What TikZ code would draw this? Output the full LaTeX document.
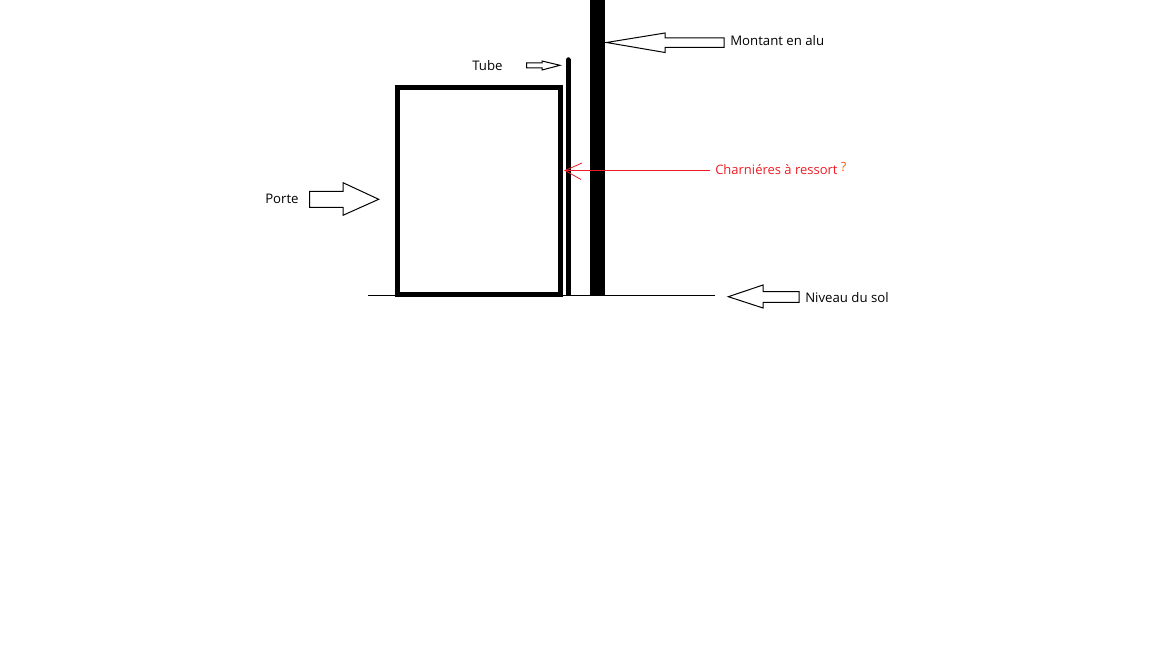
\documentclass[tikz,border=0pt]{standalone}
\usepackage{fontspec}
\setmainfont{Open Sans}
\definecolor{alarm}{HTML}{ED1C24}
\begin{document}
\begin{tikzpicture}[x=0.75pt,y=-0.75pt,
  blockarrow/.style={draw=black,line width=0.75pt,fill=white,line join=miter},
  thickline/.style={draw=black,line width=3.4pt},
  label/.style={anchor=base west,inner sep=0pt,font=\fontsize{9.9pt}{12pt}\selectfont,text=black},
  redlabel/.style={anchor=base west,inner sep=0pt,font=\fontsize{9.75pt}{12pt}\selectfont,text=alarm}]
\useasboundingbox (0,0) rectangle (1152,648);
% ground
\coordinate (gl) at (368,295);
\coordinate (gr) at (715,295);
\draw[line width=0.6pt] (gl) -- (gr);
% door
\draw[thickline,line join=miter] (397.5,87.5) rectangle (560.5,294.5);
% tube
\coordinate (tubetop) at (568.4,59.5);
\coordinate (tubebot) at (568.4,295);
\draw[draw=black,line width=3.4pt] (tubebot) -- (tubetop);
\fill (tubetop) circle (1.7pt);
% post
\fill[black] (590,0) rectangle (605,295);
% block arrows
\draw[blockarrow] (606.5,42.5) -- (665,33) -- (665,38) -- (724,38) -- (724,47.5) -- (665,47.5) -- (665,52.5) -- cycle;
\draw[blockarrow] (560,65.3) -- (542,61) -- (542,63) -- (526.5,63) -- (526.5,68) -- (542,68) -- (542,70) -- cycle;
\draw[blockarrow] (378.7,199.3) -- (343,182.7) -- (343,191.3) -- (309.5,191.3) -- (309.5,207.3) -- (343,207.3) -- (343,215.3) -- cycle;
\draw[blockarrow] (728.3,296.7) -- (763,285) -- (763,291.7) -- (799,291.7) -- (799,302.3) -- (763,302.3) -- (763,308) -- cycle;
% red hinge arrow
\coordinate (rtip) at (565,170.5);
\coordinate (rend) at (710,170.5);
\coordinate (rb1) at (582,163);
\coordinate (rb2) at (581,179.5);
\draw[alarm,line width=0.8pt] (rend) -- (rtip);
\draw[alarm,line width=0.6pt] (rb1) -- (rtip) -- (rb2);
% labels
\node[label] (montant) at (730,45.5) {Montant en alu};
\node[label] (tube) at (472,70.5) {Tube};
\node[label] (porte) at (265,203.5) {Porte};
\node[redlabel] (charn) at (715,174.5) {Charniéres à ressort};
\node[anchor=base west,inner sep=0pt,font=\fontsize{9.5pt}{11pt}\selectfont,text=orange!70!red] (qm) at (840.5,172) {?};
\node[label] (niveau) at (805,302.5) {Niveau du sol};
\end{tikzpicture}
\end{document}
